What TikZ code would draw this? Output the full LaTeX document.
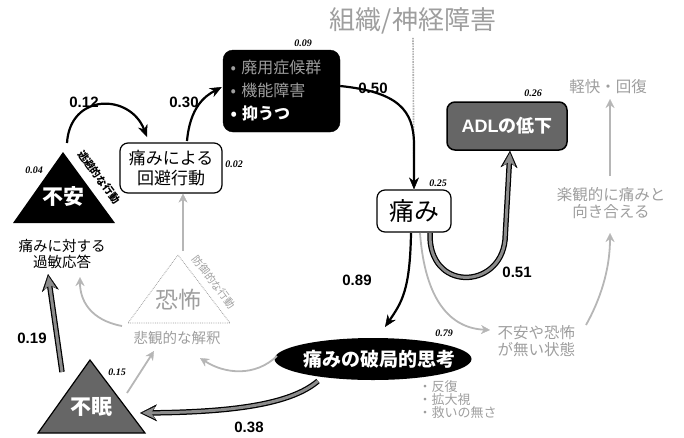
\documentclass[tikz,border=0pt]{standalone}
\usepackage{fontspec}
\setmainfont{Noto Sans CJK JP}
\newfontfamily\lat{Liberation Sans}
\newfontfamily\ser{Liberation Serif}
\usetikzlibrary{arrows.meta,shapes.geometric}
\definecolor{lg}{gray}{0.62}
\definecolor{dg}{gray}{0.40}
\definecolor{mg}{gray}{0.55}
\newcommand{\fsz}[1]{\fontsize{#1}{#1}\selectfont}
\begin{document}
\begin{tikzpicture}[x=1pt,y=-1pt,
  coef/.style={font=\lat\bfseries\fsz{15}},
  wt/.style={font=\ser\itshape\bfseries\fsz{10}},
  gtext/.style={text=lg, align=center},
  barrow/.style={line width=2.2pt, -{Stealth[length=12pt,width=10pt,line width=0.5pt]}},
  garrow/.style={draw=lg!75, line width=1.8pt, -{Stealth[length=9pt,width=9pt,line width=0.3pt]}},
  thickg/.style={draw=black, line width=5.5pt, -{Stealth[length=17pt,width=17pt,line width=0.3pt]},
    postaction={draw=mg, line width=3pt, -{Stealth[length=13pt,width=12.5pt,line width=0.3pt]}, shorten >=2.2pt}},
  wbox/.style={draw=black, line width=1.2pt, rounded corners=8pt, fill=white, align=center},
]
\useasboundingbox (0,0) rectangle (684,437);

% title and vertical line
\node[text=lg, font=\fsz{26}] (title) at (413,21) {組織/神経障害};

% nodes
\node[wbox, minimum width=74pt, minimum height=42pt, font=\fsz{25}] (pain) at (414,211) {痛み};
\draw[lg!80, line width=1.6pt, densely dotted] (title.south) -- (pain.north);

\node[draw=black, fill=black, rounded corners=10pt, minimum width=117pt, minimum height=82pt,
      text width=102pt, align=left, font=\fontsize{16}{16}\selectfont] (dis) at (281.5,91)
  {{\color{lg}• 廃用症候群}\\[7pt]{\color{lg}• 機能障害}\\[7pt]{\color{white}\bfseries • 抑うつ}};
\node[wt] at (303,43) {0.09};

\node[wbox, minimum width=102pt, minimum height=50pt, font=\fsz{17}, inner sep=2pt] (avoid) at (171,168)
  {痛みによる\\[3pt]回避行動};
\node[wt] at (234,164) {0.02};

\node[draw=black, line width=1.5pt, fill=dg, rounded corners=8pt, minimum width=120pt, minimum height=48pt,
      text=white, font=\bfseries\fsz{18}] (adl) at (507,126) {{\lat\bfseries ADL}の低下};
\node[wt] at (533,93) {0.26};
\node[wt] at (438,183) {0.25};

\node[ellipse, fill=black, minimum width=197pt, minimum height=42pt, inner sep=0pt] (cat) at (373,359) {};
\node[text=white, font=\bfseries\fsz{19}] (cattext) at (379,359) {痛みの破局的思考};
\node[wt] at (444,333) {0.79};

\node[text=lg, font=\fsz{13}, align=left, anchor=north west] (list) at (415,377)
  {\baselineskip=20pt ・反復\\・拡大視\\・救いの無さ};

% anxiety triangle
\coordinate (ax1) at (63,152);
\coordinate (ax2) at (13,223);
\coordinate (ax3) at (115,223);
\fill[black] (ax1) -- (ax2) -- (ax3) -- cycle;
\node[text=white, font=\bfseries\fsz{21}] (anx) at (63,197) {不安};
\node[wt] at (34,170) {0.04};
\node[font=\bfseries\fsz{10.5}, rotate=-53.4, inner sep=0pt] (anxside) at (99,177) {逃避的な行動};
\node[font=\fsz{14.5}, align=center] (hyper) at (62,254) {痛みに対する\\[1pt]過敏応答};

% fear triangle
\coordinate (fe1) at (178,255);
\coordinate (fe2) at (128,323);
\coordinate (fe3) at (230,323);
\draw[lg, line width=0.8pt, densely dotted] (fe1) -- (fe2) -- (fe3) -- cycle;
\node[text=lg, font=\fsz{23}] (fear) at (178,300) {恐怖};
\node[text=lg, font=\fsz{10.5}, rotate=-52.6, inner sep=0pt] (fearside) at (214,282) {防御的な行動};
\node[text=lg, font=\fsz{14.5}] (pess) at (177,338) {悲観的な解釈};

% insomnia triangle
\coordinate (in1) at (90,360);
\coordinate (in2) at (38,433);
\coordinate (in3) at (145,433);
\filldraw[fill=dg, draw=black, line width=1.2pt] (in1) -- (in2) -- (in3) -- cycle;
\node[text=white, font=\bfseries\fsz{21}] (ins) at (91,407) {不眠};
\node[wt] at (117,372) {0.15};

% right-side gray texts
\node[text=lg, font=\fsz{15.5}] (recov) at (608,87) {軽快・回復};
\node[gtext, font=\fsz{15.5}] (opt) at (611,203) {楽観的に痛みと\\[1pt]向き合える};
\node[gtext, font=\fsz{15.5}, align=left, anchor=west] (nofear) at (494,341) {不安や恐怖\\[1pt]が無い状態};

% gray thin arrows
\coordinate (fearTop) at (183,251);
\draw[garrow] (fearTop) -- ([xshift=12pt]avoid.south);
\coordinate (catL) at (277,356);
\coordinate (catEnd) at (200,358);
\draw[garrow] (catL) .. controls (255,377) and (225,374) .. (catEnd);
\coordinate (insR) at (127,393);
\coordinate (insEnd) at (154,351);
\draw[garrow] (insR) -- (insEnd);
\coordinate (fearBL) at (122,326);
\coordinate (hypEnd) at (80,277);
\draw[garrow] (fearBL) .. controls (90,320) and (80,300) .. (hypEnd);
\coordinate (painB) at (420,233);
\coordinate (nfEnd) at (490,330);
\draw[garrow] (painB) .. controls (425,300) and (450,328) .. (nfEnd);
\coordinate (nfR) at (586,325);
\coordinate (optEnd) at (610,233);
\draw[garrow] (nfR) .. controls (600,300) and (610,270) .. (optEnd);
\coordinate (optTop) at (610,176);
\coordinate (recEnd) at (610,99);
\draw[garrow] (optTop) -- (recEnd);

% black arrows
\coordinate (anxTop) at (67,143);
\coordinate (avEnd) at (147,137);
\draw[barrow] (anxTop) .. controls (70,93) and (130,93) .. (avEnd);
\node[coef] at (84,102) {0.12};
\coordinate (avTop) at (187,141);
\draw[barrow] (avTop) .. controls (190,107) and (205,96) .. ([xshift=-1pt,yshift=4pt]dis.west);
\node[coef] at (184,102) {0.30};
\draw[barrow] ([yshift=5pt]dis.east) .. controls (398,92) and (414,110) .. (414,145) -- (pain.north);
\node[coef] at (373,88) {0.50};
\coordinate (painB2) at (411,233);
\coordinate (catTop) at (385,327);
\draw[barrow] (painB2) .. controls (410,290) and (402,302) .. (catTop);
\node[coef] at (357,280) {0.89};

% thick gray arrows
\coordinate (painBR) at (430,233);
\draw[thickg] (painBR) .. controls (428,292) and (500,290) .. (505,240) -- ([xshift=3pt]adl.south);
\node[coef] at (517,272) {0.51};
\coordinate (catBL) at (318,381);
\coordinate (insEndR) at (140,413);
\draw[thickg] (catBL) .. controls (290,405) and (230,412) .. (insEndR);
\node[coef] at (249,427) {0.38};
\coordinate (insTop) at (62,372);
\coordinate (hypB) at (48,274);
\draw[thickg] (insTop) -- (hypB);
\node[coef] at (32,338) {0.19};
\end{tikzpicture}
\end{document}
